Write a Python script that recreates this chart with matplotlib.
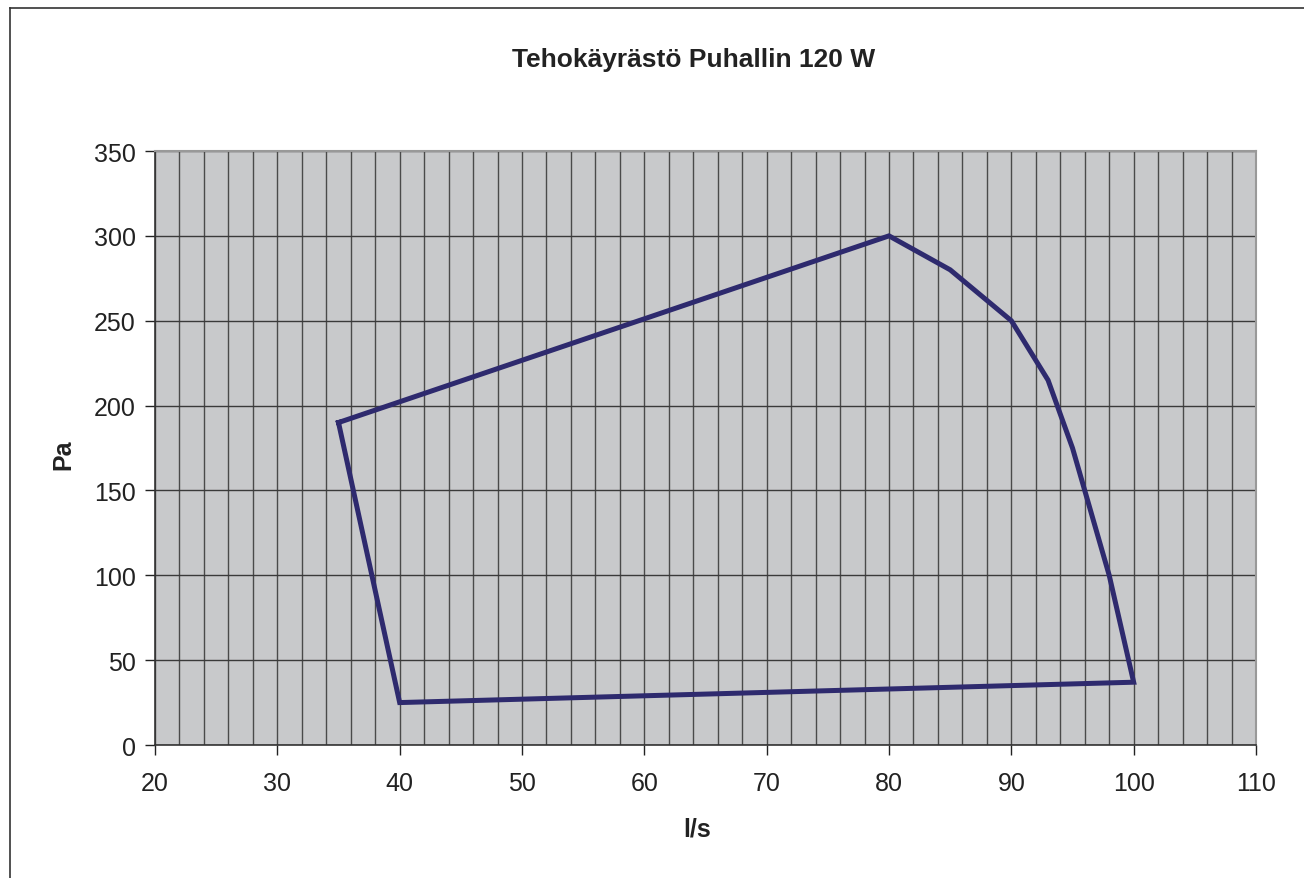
import matplotlib
matplotlib.use("Agg")
import matplotlib.pyplot as plt
from matplotlib.lines import Line2D
from matplotlib import font_manager

# Data
flow_ls = [35, 40, 100, 98, 95, 93, 90, 85, 80, 35]
pressure_pa = [190, 25, 37, 100, 175, 215, 250, 280, 300, 190]
x_ticks = [20, 30, 40, 50, 60, 70, 80, 90, 100, 110]
y_ticks = [0, 50, 100, 150, 200, 250, 300, 350]
title = "Tehokäyrästö Puhallin 120 W"
x_label = "l/s"
y_label = "Pa"

names = {f.name for f in font_manager.fontManager.ttflist}
base_font = "Liberation Sans" if "Liberation Sans" in names else "DejaVu Sans"
title_font = "Liberation Sans Narrow" if "Liberation Sans Narrow" in names else base_font
plt.rcParams['font.family'] = [base_font, 'DejaVu Sans']

fig = plt.figure(figsize=(13.04, 8.79), dpi=100)
ax = fig.add_axes([155/1304, 1 - 746/879, (1256-155)/1304, (746-152)/879])
ax.set_facecolor("#c8c9cb")

ax.set_xlim(20, 110)
ax.set_ylim(0, 350)
ax.set_xticks(x_ticks)
ax.set_yticks(y_ticks)
ax.set_xticks(list(range(20, 111, 2)), minor=True)
ax.tick_params(axis='x', which='minor', length=0)
ax.tick_params(axis='both', which='major', direction='out', length=7, width=1,
               color='#222222', labelsize=18, labelcolor='#222222')
ax.tick_params(axis='x', pad=12)
ax.tick_params(axis='y', pad=7)

ax.grid(True, which='minor', axis='x', color='#4a4a4a', lw=1.0)
ax.grid(True, which='major', axis='x', color='#4a4a4a', lw=1.0)
ax.grid(True, which='major', axis='y', color='#3a3a3a', lw=1.0)
ax.set_axisbelow(True)

ax.plot(flow_ls, pressure_pa, color='#2e2a6e', lw=3.6, solid_joinstyle='miter',
        zorder=3)

for s in ['left', 'bottom']:
    ax.spines[s].set_color('#333333')
    ax.spines[s].set_linewidth(1.2)
for s in ['top', 'right']:
    ax.spines[s].set_color('#999999')
    ax.spines[s].set_linewidth(1.5)

fig.text(694/1304, 1 - 60/879, title, ha='center', va='center',
         fontsize=19, fontweight='bold', family=[title_font, 'DejaVu Sans'],
         color='#222222')
fig.text(63/1304, 1 - 455/879, y_label, ha='center', va='center', rotation=90,
         fontsize=18, fontweight='bold', color='#222222')
fig.text(697/1304, 1 - 830/879, x_label, ha='center', va='center',
         fontsize=18, fontweight='bold', color='#222222')

# outer frame (left and top edges)
fig.add_artist(Line2D([10/1304, 10/1304], [0, 1 - 9/879], transform=fig.transFigure,
                      color='#333333', lw=1.2))
fig.add_artist(Line2D([10/1304, 1], [1 - 9/879, 1 - 9/879], transform=fig.transFigure,
                      color='#333333', lw=1.2))

fig.savefig("out.png", dpi=100)
